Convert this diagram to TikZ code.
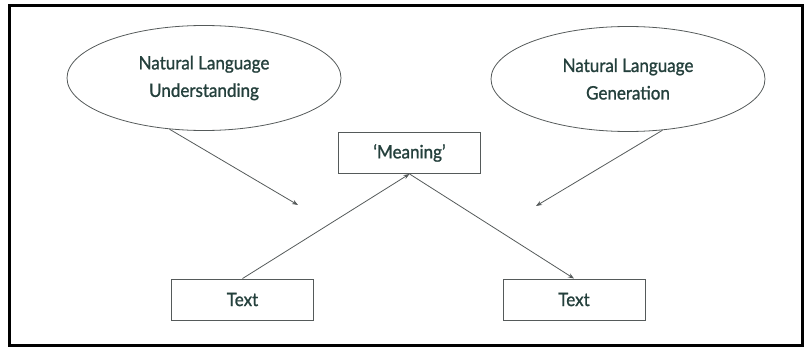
\documentclass[tikz,border=0pt]{standalone}
\usepackage{fontspec}
\setmainfont{Lato}[FakeStretch=0.92,FakeBold=1.2]
\usetikzlibrary{shapes.geometric,arrows.meta}
\definecolor{txt}{RGB}{36,64,60}
\definecolor{ln}{RGB}{85,90,90}
\tikzset{
  bubble/.style={ellipse,draw=ln,line width=0.8pt,minimum width=274pt,minimum height=105pt,inner sep=0pt,align=center,text=txt,font=\fontsize{18.5}{27.5}\selectfont},
  box/.style={rectangle,draw=ln,line width=0.9pt,minimum width=142pt,minimum height=41pt,inner sep=0pt,text=txt,font=\fontsize{18.5}{20}\selectfont},
  conn/.style={draw=ln,line width=0.8pt,-{Stealth[length=6pt,width=4.5pt]}}
}
\begin{document}
\begin{tikzpicture}[x=1pt,y=-1pt]
\useasboundingbox (0,0) rectangle (806,350);
\draw[line width=3pt,black] (9,6) rectangle (802,345);
\node[bubble] (nlu) at (204,78) {Natural Language\\Understanding};
\node[bubble] (nlg) at (628,79) {Natural Language\\Generation};
\node[box] (mean) at (409.5,153) {‘Meaning’};
\node[box] (tl) at (242.5,299.5) {Text};
\node[box] (tr) at (574,299.5) {Text};
\coordinate (e1) at (298,205);
\coordinate (e2) at (536,206);
\draw[conn] (nlu.-124) -- (e1);
\draw[conn] (nlg.-56) -- (e2);
\draw[conn] (tl.north) -- (mean.south);
\draw[conn] (mean.south) -- (tr.north);
\end{tikzpicture}
\end{document}
